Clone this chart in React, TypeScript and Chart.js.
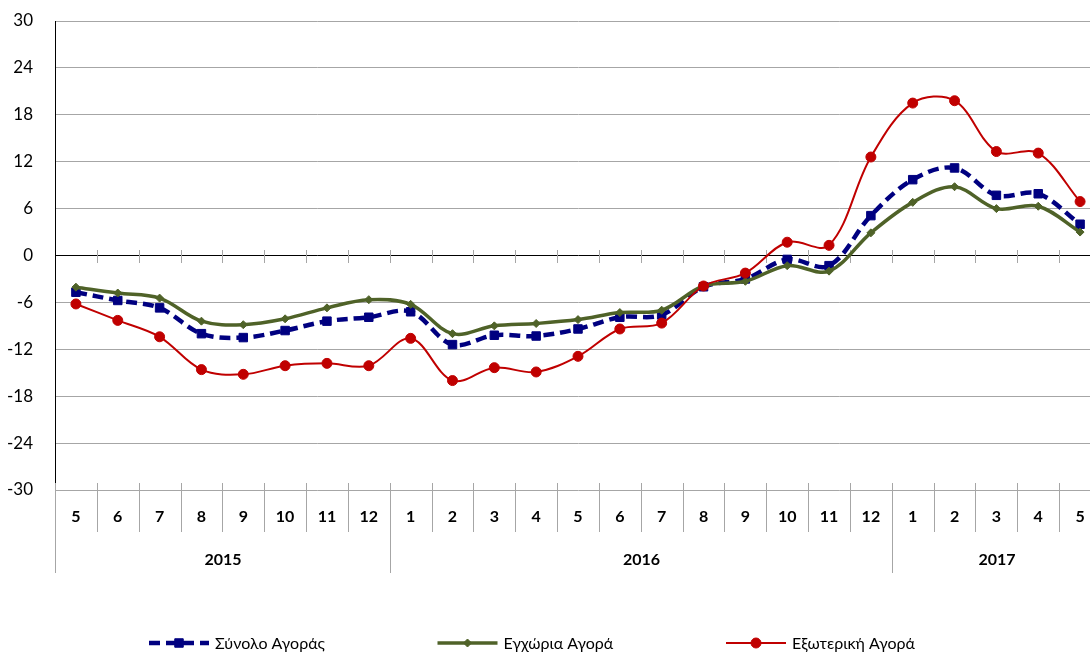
import { useEffect, useRef } from 'react';
import { Chart, registerables } from 'chart.js';

Chart.register(...registerables);

const months = ['5', '6', '7', '8', '9', '10', '11', '12', '1', '2', '3', '4', '5', '6', '7', '8', '9', '10', '11', '12', '1', '2', '3', '4', '5'];
const years = ['2015', '2016', '2017'];
const yearSpans = [8, 12, 5];

const totalMarket = [-4.7, -5.75, -6.7, -10.0, -10.5, -9.6, -8.4, -7.9, -7.2, -11.4, -10.2, -10.3, -9.4, -7.9, -7.6, -4.0, -3.0, -0.5, -1.3, 5.1, 9.7, 11.2, 7.7, 7.9, 4.0];
const domesticMarket = [-4.05, -4.8, -5.45, -8.4, -8.85, -8.1, -6.7, -5.65, -6.25, -10.0, -9.0, -8.7, -8.2, -7.3, -7.0, -3.9, -3.3, -1.3, -2.0, 2.9, 6.8, 8.8, 6.0, 6.3, 3.0];
const externalMarket = [-6.2, -8.3, -10.4, -14.6, -15.2, -14.1, -13.8, -14.1, -10.6, -16.0, -14.35, -14.9, -12.9, -9.4, -8.65, -3.9, -2.25, 1.7, 1.3, 12.6, 19.5, 19.8, 13.3, 13.1, 6.9];

const seriesNames = ['Σύνολο Αγοράς', 'Εγχώρια Αγορά', 'Εξωτερική Αγορά'];
const yMin = -30;
const yMax = 30;
const yStep = 6;

const FONT = 'Lato';

function drawMarker(ctx: CanvasRenderingContext2D, style: string, x: number, y: number, r: number, color: string) {
  ctx.save();
  ctx.fillStyle = color;
  ctx.strokeStyle = color;
  ctx.lineWidth = 1;
  ctx.setLineDash([]);
  ctx.beginPath();
  if (style === 'rect') {
    const s = Math.SQRT1_2 * r;
    ctx.rect(x - s, y - s, 2 * s, 2 * s);
  } else if (style === 'rectRot') {
    ctx.moveTo(x, y - r);
    ctx.lineTo(x + r, y);
    ctx.lineTo(x, y + r);
    ctx.lineTo(x - r, y);
    ctx.closePath();
  } else {
    ctx.arc(x, y, r, 0, Math.PI * 2);
  }
  ctx.fill();
  ctx.stroke();
  ctx.restore();
}

const axisPlugin = {
  id: 'axisFurniture',
  beforeDatasetsDraw(chart: any) {
    const xs = chart.scales.x;
    const ys = chart.scales.y;
    const ctx = chart.ctx as CanvasRenderingContext2D;
    const half = (xs.getPixelForTick(1) - xs.getPixelForTick(0)) / 2;
    const zy = Math.round(ys.getPixelForValue(0));
    ctx.save();
    ctx.strokeStyle = '#a6a6a6';
    ctx.lineWidth = 1;
    ctx.beginPath();
    for (let i = 1; i <= months.length; i++) {
      const bx = Math.round(xs.getPixelForTick(0) - half + 2 * half * i) + 0.5;
      ctx.moveTo(bx, zy - 6);
      ctx.lineTo(bx, zy + 7);
    }
    ctx.stroke();
    ctx.restore();
  },
  afterDraw(chart: any) {
    const xs = chart.scales.x;
    const ys = chart.scales.y;
    const ctx = chart.ctx as CanvasRenderingContext2D;
    const half = (xs.getPixelForTick(1) - xs.getPixelForTick(0)) / 2;
    const bottom = Math.round(ys.bottom);
    const boundary = (i: number) => Math.round(xs.getPixelForTick(0) - half + 2 * half * i) + 0.5;

    ctx.save();
    ctx.strokeStyle = '#a6a6a6';
    ctx.lineWidth = 1;
    ctx.beginPath();
    for (let i = 0; i <= months.length; i++) {
      const bx = boundary(i);
      ctx.moveTo(bx, bottom - 7);
      ctx.lineTo(bx, bottom + 42);
    }
    let acc = 0;
    const seps = [0];
    yearSpans.forEach((s) => {
      acc += s;
      seps.push(acc);
    });
    seps.forEach((i) => {
      const bx = boundary(i);
      ctx.moveTo(bx, bottom + 42);
      ctx.lineTo(bx, bottom + 83);
    });
    ctx.stroke();

    ctx.fillStyle = '#000';
    ctx.font = `bold 16px ${FONT}`;
    ctx.textAlign = 'center';
    ctx.textBaseline = 'middle';
    years.forEach((yr, k) => {
      const cx = (boundary(seps[k]) + boundary(seps[k + 1])) / 2;
      ctx.fillText(yr, cx, bottom + 70);
    });

    const legendY = 643;
    const legendLeft = 149;
    const legendStride = 288.5;
    const sampleLen = 60;
    ctx.font = `16px ${FONT}`;
    ctx.textAlign = 'left';
    ctx.textBaseline = 'middle';
    chart.data.datasets.forEach((ds: any, i: number) => {
      const x0 = legendLeft + i * legendStride;
      ctx.save();
      ctx.strokeStyle = ds.borderColor;
      ctx.lineWidth = ds.borderWidth;
      ctx.setLineDash(ds.borderDash || []);
      ctx.lineCap = 'butt';
      ctx.beginPath();
      ctx.moveTo(x0, legendY);
      ctx.lineTo(x0 + sampleLen, legendY);
      ctx.stroke();
      ctx.restore();
      drawMarker(ctx, ds.pointStyle, x0 + sampleLen / 2, legendY, ds.pointRadius, ds.borderColor);
      ctx.fillStyle = '#000';
      ctx.fillText(ds.label, x0 + sampleLen + 6, legendY + 1);
    });
    ctx.restore();
  },
};

export default function App() {
  const ref = useRef<HTMLCanvasElement | null>(null);

  useEffect(() => {
    if (!ref.current) return;
    const chart = new Chart(ref.current, {
      type: 'line',
      data: {
        labels: months,
        datasets: [
          {
            label: seriesNames[0],
            data: totalMarket,
            borderColor: '#000080',
            backgroundColor: '#000080',
            borderWidth: 4.5,
            borderDash: [11, 6],
            pointStyle: 'rect',
            pointRadius: 6,
            pointBorderWidth: 1,
            pointBackgroundColor: '#000080',
            tension: 0.35,
            fill: false,
            order: 2,
          },
          {
            label: seriesNames[1],
            data: domesticMarket,
            borderColor: '#4f6228',
            backgroundColor: '#4f6228',
            borderWidth: 3.5,
            pointStyle: 'rectRot',
            pointRadius: 4,
            pointBorderWidth: 1,
            pointBackgroundColor: '#4f6228',
            tension: 0.35,
            fill: false,
            order: 1,
          },
          {
            label: seriesNames[2],
            data: externalMarket,
            borderColor: '#c00000',
            backgroundColor: '#c00000',
            borderWidth: 2,
            pointStyle: 'circle',
            pointRadius: 5,
            pointBorderWidth: 1,
            pointBackgroundColor: '#c00000',
            tension: 0.35,
            fill: false,
            order: 0,
          },
        ],
      },
      options: {
        responsive: false,
        animation: false,
        devicePixelRatio: 1,
        layout: { padding: { top: 21, left: 0, right: 0, bottom: 0 }, autoPadding: false },
        plugins: {
          legend: { display: false },
          title: { display: false },
          tooltip: { enabled: false },
        },
        scales: {
          x: {
            type: 'category',
            offset: true,
            grid: { display: false, drawTicks: false },
            border: { display: false },
            ticks: {
              autoSkip: false,
              maxRotation: 0,
              minRotation: 0,
              padding: 17,
              color: '#000',
              font: { family: FONT, size: 16, weight: 'bold' },
            },
            afterFit: (scale: any) => {
              scale.height = 164;
              scale.paddingLeft = 0;
              scale.paddingRight = 0;
            },
          },
          y: {
            min: yMin,
            max: yMax,
            ticks: {
              stepSize: yStep,
              padding: 22,
              color: '#000',
              font: { family: FONT, size: 17 },
            },
            grid: {
              drawTicks: false,
              color: (c: any) => (c.tick && c.tick.value === 0 ? '#000000' : '#a6a6a6'),
              lineWidth: 1,
            },
            border: { display: true, color: '#000', width: 1 },
            afterFit: (scale: any) => {
              scale.width = 55;
              scale.paddingTop = 0;
              scale.paddingBottom = 0;
            },
          },
        },
      },
      plugins: [axisPlugin],
    } as any);
    return () => chart.destroy();
  }, []);

  return (
    <div style={{ position: 'fixed', left: 0, top: 0, width: 1090, height: 654, overflow: 'hidden', background: '#fff' }}>
      <canvas ref={ref} width={1101} height={654} style={{ display: 'block' }} />
    </div>
  );
}
